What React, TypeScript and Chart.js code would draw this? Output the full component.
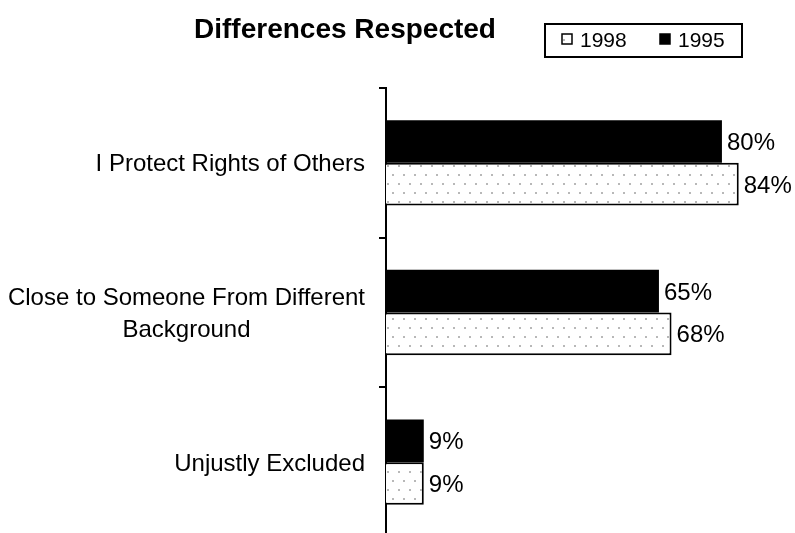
import React, { useEffect, useRef } from "react";
import { Chart, registerables } from "chart.js";

Chart.register(...registerables);

const title = "Differences Respected";
const categories: string[][] = [
  ["I Protect Rights of Others"],
  ["Close to Someone From Different", "Background"],
  ["Unjustly Excluded"],
];
const seriesNames = ["1995", "1998"];
const values1995 = [80, 65, 9];
const values1998 = [84, 68, 9];
const legendOrder = ["1998", "1995"];

const FONT = "'Liberation Sans', Arial, sans-serif";

function makeDotPattern(): CanvasPattern | string {
  const c = document.createElement("canvas");
  c.width = 11;
  c.height = 18;
  const g = c.getContext("2d");
  if (!g) return "#fff";
  g.fillStyle = "#fff";
  g.fillRect(0, 0, 11, 18);
  g.fillStyle = "#b8b8b8";
  g.fillRect(2, 3, 2, 2);
  g.fillRect(7, 12, 2, 2);
  const p = g.createPattern(c, "repeat");
  return p || "#fff";
}

const overlay = {
  id: "overlay",
  afterDraw(chart: any) {
    const ctx: CanvasRenderingContext2D = chart.ctx;
    ctx.save();
    ctx.fillStyle = "#000";
    ctx.strokeStyle = "#000";

    // title
    ctx.font = `bold 28px ${FONT}`;
    ctx.textAlign = "center";
    ctx.textBaseline = "alphabetic";
    ctx.fillText(title, 345, 38);

    // legend box
    ctx.lineWidth = 2;
    ctx.strokeRect(545, 24, 197, 33);
    ctx.font = `21px ${FONT}`;
    ctx.textAlign = "left";
    const itemX = [562, 660];
    legendOrder.forEach((name, k) => {
      const ds = chart.data.datasets.find((d: any) => d.label === name);
      const x = itemX[k];
      ctx.fillStyle = ds.backgroundColor;
      ctx.fillRect(x, 34, 10, 10);
      ctx.lineWidth = 1.5;
      ctx.strokeRect(x, 34, 10, 10);
      ctx.fillStyle = "#000";
      ctx.fillText(name, x + 18, 47);
    });

    // category labels
    const ys = chart.scales.y;
    ctx.font = `24px ${FONT}`;
    categories.forEach((lines, i) => {
      const cy = ys.getPixelForValue(i);
      const lh = 31.5;
      const widths = lines.map((l) => ctx.measureText(l).width);
      const maxW = Math.max(...widths);
      const right = ys.right - 21;
      const centerX = right - maxW / 2;
      ctx.textAlign = "center";
      lines.forEach((l, k) => {
        const ly = cy + (k - (lines.length - 1) / 2) * lh + 8.6;
        ctx.fillText(l, centerX, ly);
      });
    });

    // value labels
    ctx.textAlign = "left";
    chart.data.datasets.forEach((ds: any, d: number) => {
      const meta = chart.getDatasetMeta(d);
      meta.data.forEach((el: any, i: number) => {
        ctx.fillText(ds.data[i] + "%", el.x + 5, el.y + 8.6);
      });
    });
    ctx.restore();
  },
};

export default function App() {
  const ref = useRef<HTMLCanvasElement>(null);
  useEffect(() => {
    const canvas = ref.current;
    if (!canvas) return;
    const dots = makeDotPattern();
    const chart = new Chart(canvas, {
      type: "bar",
      data: {
        labels: categories as any,
        datasets: [
          {
            label: seriesNames[0],
            data: values1995,
            backgroundColor: "#000",
            borderColor: "#000",
            borderWidth: 0,
          },
          {
            label: seriesNames[1],
            data: values1998,
            backgroundColor: dots as any,
            borderColor: "#000",
            borderWidth: 2,
            borderSkipped: "start",
          },
        ],
      },
      options: {
        indexAxis: "y",
        responsive: false,
        animation: false,
        devicePixelRatio: 1,
        layout: { padding: { top: 88, bottom: 3, left: 0, right: 0 } },
        datasets: { bar: { barPercentage: 1, categoryPercentage: 0.57 } },
        plugins: {
          legend: { display: false },
          title: { display: false },
          tooltip: { enabled: false },
        },
        scales: {
          x: { display: false, min: 0, max: 97.4 },
          y: {
            offset: true,
            grid: {
              display: true,
              drawOnChartArea: false,
              drawTicks: true,
              tickLength: 7,
              color: "#000",
              lineWidth: 2,
              offset: true,
            },
            border: { display: true, color: "#000", width: 2 },
            ticks: { display: false },
            afterFit: (s: any) => {
              s.width = 386;
            },
          },
        },
      } as any,
      plugins: [overlay],
    });
    return () => chart.destroy();
  }, []);
  return (
    <div
      style={{
        position: "fixed",
        left: 0,
        top: 0,
        width: 795,
        height: 533,
        overflow: "hidden",
        background: "#fff",
      }}
    >
      <canvas ref={ref} width={795} height={540} style={{ display: "block" }} />
    </div>
  );
}
